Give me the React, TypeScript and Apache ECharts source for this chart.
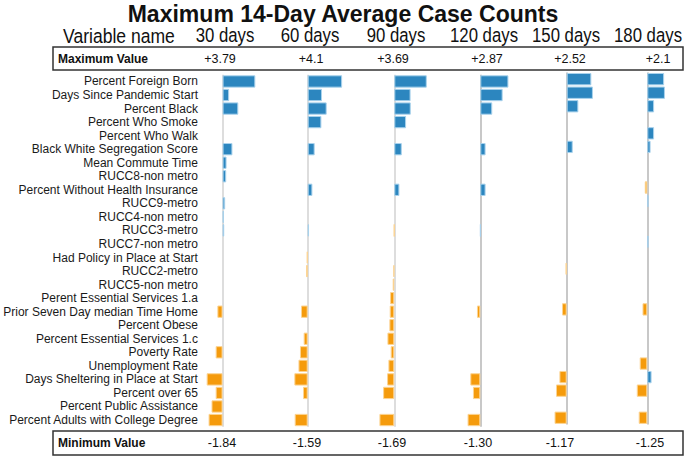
import React, { useEffect, useRef } from 'react';
import * as echarts from 'echarts';

const variables = [
  'Percent Foreign Born',
  'Days Since Pandemic Start',
  'Percent Black',
  'Percent Who Smoke',
  'Percent Who Walk',
  'Black White Segregation Score',
  'Mean Commute Time',
  'RUCC8-non metro',
  'Percent Without Health Insurance',
  'RUCC9-metro',
  'RUCC4-non metro',
  'RUCC3-metro',
  'RUCC7-non metro',
  'Had Policy in Place at Start',
  'RUCC2-metro',
  'RUCC5-non metro',
  'Perent Essential Services 1.a',
  'Prior Seven Day median Time Home',
  'Percent Obese',
  'Percent Essential Services 1.c',
  'Poverty Rate',
  'Unemployment Rate',
  'Days Sheltering in Place at Start',
  'Percent over 65',
  'Percent Public Assistance',
  'Percent Adults with College Degree',
];

const periods = ['30 days', '60 days', '90 days', '120 days', '150 days', '180 days'];
const maxLabels = ['+3.79', '+4.1', '+3.69', '+2.87', '+2.52', '+2.1'];
const minLabels = ['-1.84', '-1.59', '-1.69', '-1.30', '-1.17', '-1.25'];

const d30 = [3.79, 0.76, 1.82, 0, 0, 1.14, 0.46, 0.42, 0, 0.3, 0.15, 0.19, 0, 0, 0, 0, 0, -0.6, 0, 0, -0.8, 0, -1.84, -0.8, -1.28, -1.62];
const d60 = [4.1, 1.7, 2.26, 1.63, 0, 0.83, 0, 0, 0.56, 0, 0, 0.16, 0, -0.1, -0.18, 0, 0, -0.8, 0, -0.48, -0.92, -1.1, -1.59, -0.56, 0, -1.55];
const d90 = [3.69, 1.85, 1.87, 1.34, 0, 0.85, 0, 0, 0.58, 0, 0, -0.02, 0, 0, -0.1, -0.18, -0.48, -0.52, -0.56, -0.78, -0.41, -0.67, -0.82, -1.27, 0, -1.69];
const d120 = [2.87, 2.28, 1.22, 0, 0, 0.54, 0, 0, 0.54, 0, 0, 0.02, 0, 0, 0, 0, 0, -0.34, 0, 0, 0, 0, -1.02, -0.75, 0, -1.3];
const d150 = [2.37, 2.52, 1.12, 0, 0, 0.58, 0, 0, 0, 0, 0, 0, 0, 0, -0.1, 0, 0, -0.45, 0, 0, 0, 0, -0.7, -1.03, 0, -1.17];
const d180 = [2.0, 2.1, 0.81, 0, 0.81, 0.39, 0, 0, -0.3, 0.15, 0, 0, 0.15, 0, 0, 0, 0, -0.57, 0, 0, 0, -0.9, 0.51, -1.25, 0, -1.02];
const seriesValues = [d30, d60, d90, d120, d150, d180];

const FONT = '"Liberation Sans", Arial, Helvetica, sans-serif';
const zeroX = [221.7, 307.7, 394.3, 480.3, 566.7, 652.7];
const pxPerUnit = [8.8, 8.4, 8.8, 9.8, 10.4, 11.15];
const gridTop = [74.7, 74.7, 74.7, 74.7, 72.4, 72.4];
const gridHeight = 352.1;
const headerX = [225, 310, 396, 484, 566, 648];
const maxX = [220, 311, 393, 487, 570, 658];
const minX = [222, 307, 392, 478, 560, 650];
const lineColors = ['#dddddd', '#dddddd', '#dddddd', '#c8c8c8', '#c8c8c8', '#c8c8c8'];
const LEFT = 22;
const RIGHT = 50;

function txt(text: string, x: number, y: number, size: number, bold: boolean, align: string, scaleX = 1) {
  return {
    type: 'text',
    x,
    y,
    scaleX,
    silent: true,
    style: {
      text,
      fontSize: size,
      fontWeight: bold ? 'bold' : 'normal',
      fontFamily: FONT,
      fill: '#111',
      textAlign: align,
      align,
      textVerticalAlign: 'middle',
      verticalAlign: 'middle',
    },
  };
}

export default function App() {
  const ref = useRef<HTMLDivElement>(null);
  useEffect(() => {
    if (!ref.current) return;
    const chart = echarts.init(ref.current, undefined, { renderer: 'svg' });

    const grids = zeroX.map((z, i) => ({
      left: z - LEFT,
      top: gridTop[i],
      width: LEFT + RIGHT,
      height: gridHeight,
      containLabel: false,
    }));
    const xAxes = zeroX.map((_, i) => ({
      type: 'value',
      gridIndex: i,
      min: -LEFT / pxPerUnit[i],
      max: RIGHT / pxPerUnit[i],
      show: false,
    }));
    const yAxes = zeroX.map((_, i) => ({
      type: 'category',
      gridIndex: i,
      data: variables,
      inverse: true,
      axisLine: { show: false },
      axisTick: { show: false },
      splitLine: { show: false },
      axisLabel: {
        show: i === 0,
        interval: 0,
        fontSize: 12,
        fontFamily: FONT,
        color: '#1a1a1a',
        margin: 3,
      },
    }));
    const series = seriesValues.map((vals, i) => ({
      type: 'bar',
      xAxisIndex: i,
      yAxisIndex: i,
      barCategoryGap: '9%',
      data: vals.map((v) =>
        v === 0
          ? '-'
          : {
              value: v,
              itemStyle: {
                color: v > 0 ? '#2c86bf' : '#f59b0c',
                borderColor: v > 0 ? '#a9d2ec' : '#fcd493',
                borderWidth: 1,
              },
            }
      ),
      markLine: {
        silent: true,
        symbol: ['none', 'none'],
        label: { show: false },
        lineStyle: { color: lineColors[i], width: 2, type: 'solid' },
        data: [{ xAxis: 0 }],
        z: 1,
      },
    }));

    const graphic: any[] = [
      txt('Maximum 14-Day Average Case Counts', 343, 13.5, 23.5, true, 'center', 0.98),
      txt('Variable name', 63, 36, 19.5, false, 'left', 0.9),
      ...periods.map((p, i) => txt(p, headerX[i], 36, 19.5, false, 'center', 0.86)),
      {
        type: 'rect',
        silent: true,
        shape: { x: 53, y: 47, width: 630, height: 23 },
        style: { fill: 'none', stroke: '#333', lineWidth: 1.5 },
      },
      txt('Maximum Value', 58, 58.5, 12, true, 'left'),
      ...maxLabels.map((t, i) => txt(t, maxX[i], 58.5, 12.5, false, 'center')),
      {
        type: 'rect',
        silent: true,
        shape: { x: 53, y: 431, width: 630, height: 24 },
        style: { fill: 'none', stroke: '#333', lineWidth: 1.5 },
      },
      txt('Minimum Value', 58, 443, 12, true, 'left'),
      ...minLabels.map((t, i) => txt(t, minX[i], 443, 12.5, false, 'center')),
    ];

    chart.setOption({
      animation: false,
      backgroundColor: '#ffffff',
      grid: grids,
      xAxis: xAxes,
      yAxis: yAxes,
      series,
      graphic,
    } as any);
    return () => chart.dispose();
  }, []);
  return (
    <div
      ref={ref}
      style={{ position: 'fixed', left: 0, top: 0, width: 685, height: 457, background: '#fff' }}
    />
  );
}
